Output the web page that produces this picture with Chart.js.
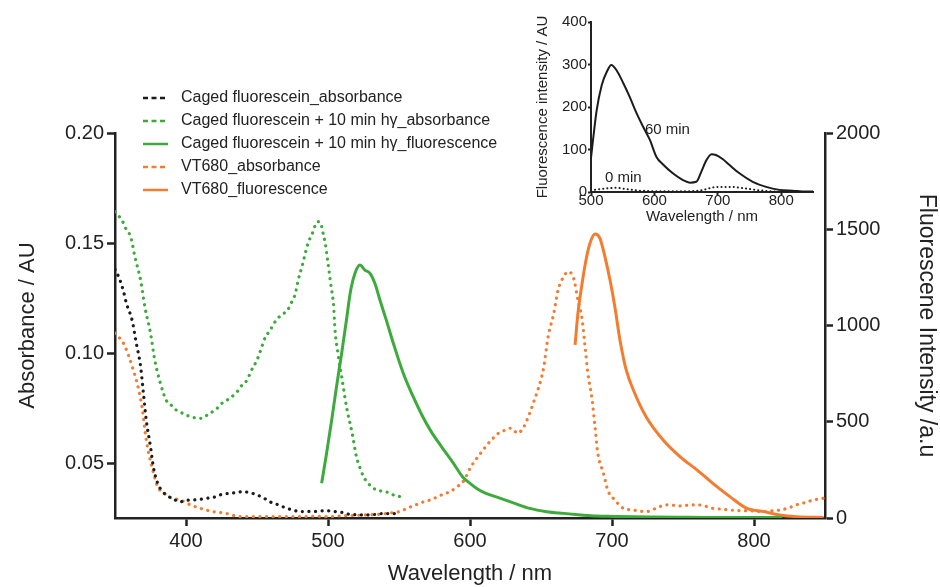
<!DOCTYPE html>
<html>
<head>
<meta charset="utf-8">
<script src="https://cdn.jsdelivr.net/npm/chart.js@4.4.1/dist/chart.umd.min.js"></script>
<style>
  html, body { margin: 0; padding: 0; background: #fff; }
  #wrap { position: relative; width: 940px; height: 587px; }
  #main { position: absolute; left: 0; top: 0; }
  #inset { position: absolute; left: 520px; top: 0; }
</style>
</head>
<body>
<div id="wrap">
  <canvas id="main" width="940" height="587"></canvas>
  <canvas id="inset" width="320" height="240"></canvas>
</div>
<script>
// --- main chart data ---
const xTicks = [400, 500, 600, 700, 800];
const absTicks = [0.05, 0.10, 0.15, 0.20];
const flTicks = [0, 500, 1000, 1500, 2000];

// Caged fluorescein_absorbance (left axis)
const cagedAbsNm = [350, 353, 356, 358, 362, 365, 368, 370, 372, 375, 377, 380, 383, 386, 390, 396, 400, 405, 410, 415, 420, 424, 428, 431, 435, 440, 445, 450, 455, 459, 465, 471, 476, 480, 486, 492, 498, 504, 510, 515, 521, 527, 533, 539, 545, 550];
const cagedAbsVal = [0.138, 0.134, 0.128, 0.1226, 0.115, 0.1044, 0.094, 0.0817, 0.0695, 0.0574, 0.0483, 0.0408, 0.0375, 0.0355, 0.034, 0.0324, 0.033, 0.0332, 0.0335, 0.034, 0.0345, 0.0355, 0.036, 0.0362, 0.0365, 0.037, 0.0365, 0.0355, 0.034, 0.0324, 0.031, 0.0294, 0.0285, 0.0279, 0.028, 0.028, 0.0283, 0.028, 0.0275, 0.0267, 0.0265, 0.0264, 0.0266, 0.027, 0.027, 0.027];

// Caged fluorescein + 10 min hy_absorbance (left axis)
const litAbsNm = [350, 353, 356, 358, 361, 364, 368, 371, 375, 378, 382, 386, 390, 393, 397, 400, 404, 408, 411, 415, 418, 422, 425, 429, 432, 436, 439, 443, 446, 450, 453, 456, 459, 462, 465, 469, 472, 474, 477, 479, 482, 484, 486, 489, 491, 493, 495, 496, 498, 500, 502, 504, 505, 507, 510, 513, 517, 520, 523, 525, 528, 532, 536, 539, 543, 546, 549, 551];
const litAbsVal = [0.1642, 0.162, 0.159, 0.156, 0.1529, 0.1438, 0.1332, 0.121, 0.109, 0.0968, 0.0862, 0.0786, 0.076, 0.0741, 0.0728, 0.0718, 0.071, 0.0703, 0.0703, 0.0718, 0.073, 0.0749, 0.077, 0.0786, 0.080, 0.0824, 0.085, 0.0877, 0.092, 0.0968, 0.102, 0.1074, 0.110, 0.1135, 0.116, 0.118, 0.120, 0.1226, 0.127, 0.1332, 0.140, 0.1453, 0.150, 0.1544, 0.158, 0.1597, 0.159, 0.1559, 0.150, 0.1408, 0.131, 0.121, 0.110, 0.0999, 0.0877, 0.0756, 0.0635, 0.0529, 0.047, 0.0438, 0.041, 0.0385, 0.0375, 0.037, 0.0365, 0.0355, 0.035, 0.0347];

// Caged fluorescein + 10 min hy_fluorescence (right axis)
const litFlNm = [495.5, 499, 502.6, 506, 509.6, 513, 516, 519, 522.5, 526, 529.6, 533, 536.6, 541, 546, 553, 560, 567, 573, 580, 588, 595, 600, 605, 610, 619, 630, 642, 654, 666, 678, 689, 701, 715, 730, 748, 765, 780, 795, 810, 820];
const litFlVal = [180, 336, 509, 682, 855, 1029, 1184, 1271, 1314, 1288, 1271, 1219, 1132, 1029, 908, 752, 630, 522, 445, 370, 288, 212, 180, 152, 132, 108, 80, 50, 33, 24, 16, 10, 8, 6, 5, 4, 3, 3, 2, 2, 2];

// VT680_absorbance (left axis)
const vtAbsNm = [350, 353, 356, 360, 363, 365, 369, 372, 376, 380, 383, 386, 390, 396, 403, 410, 419, 428, 438, 450, 460, 470, 480, 490, 500, 510, 520, 527, 534, 541, 546, 551, 556, 562, 568, 572, 580, 586, 591, 596, 600, 604, 607, 611, 614, 620, 625, 628, 631, 633, 635, 638, 642, 645, 647, 650, 652, 655, 659, 662, 666, 669, 673, 676, 679, 681, 683, 686, 688, 690, 694, 697, 702, 708, 715, 724, 731, 738, 743, 748, 754, 760, 765, 771, 777, 783, 789, 795, 801, 807, 812, 818, 824, 830, 836, 842, 849];
const vtAbsVal = [0.109, 0.107, 0.1044, 0.098, 0.092, 0.0877, 0.0756, 0.0605, 0.0483, 0.0392, 0.037, 0.0355, 0.034, 0.0332, 0.031, 0.0294, 0.0279, 0.0271, 0.0256, 0.0256, 0.0256, 0.0256, 0.0256, 0.0258, 0.0256, 0.026, 0.0262, 0.0264, 0.0266, 0.027, 0.0275, 0.028, 0.0295, 0.031, 0.0325, 0.0332, 0.0355, 0.037, 0.0392, 0.0423, 0.0476, 0.0514, 0.054, 0.0574, 0.0597, 0.0635, 0.065, 0.0658, 0.065, 0.0635, 0.064, 0.0665, 0.0726, 0.078, 0.0817, 0.088, 0.0938, 0.1074, 0.118, 0.1286, 0.1347, 0.137, 0.1339, 0.1241, 0.115, 0.1029, 0.0908, 0.0786, 0.0665, 0.0544, 0.0453, 0.0377, 0.0332, 0.0294, 0.0286, 0.0279, 0.0294, 0.031, 0.0308, 0.0305, 0.0308, 0.031, 0.0305, 0.0294, 0.029, 0.0286, 0.0284, 0.0283, 0.0281, 0.0279, 0.0282, 0.0286, 0.0295, 0.031, 0.032, 0.0332, 0.034];

// VT680_fluorescence (right axis)
const vtFlNm = [674, 676, 678.6, 681.7, 684.5, 688, 691.5, 695, 698.6, 702, 705.6, 710, 716, 724, 736, 748, 760, 771, 783, 795, 807, 818, 830, 849];
const vtFlVal = [899, 1063, 1202, 1340, 1427, 1475, 1453, 1358, 1236, 1098, 925, 769, 648, 526, 405, 318, 249, 180, 111, 50, 33, 16, 7, 3];

// --- inset data ---
const insetXTicks = [500, 600, 700, 800];
const insetYTicks = [0, 100, 200, 300, 400];
const min60Nm = [500, 503, 509, 517, 525, 532, 540, 551, 561, 572, 582, 593, 603, 614, 629, 645, 656, 666, 674, 682, 690, 697, 708, 718, 734, 755, 776, 797, 818, 839, 850];
const min60Val = [80, 120, 193, 252, 283, 299, 287, 256, 224, 185, 154, 122, 83, 64, 44, 28, 22, 24, 48, 75, 89, 87, 77, 64, 44, 24, 12, 5, 3, 1, 1];
const min0Nm = [500, 510, 520, 530, 540, 550, 560, 570, 580, 600, 620, 650, 670, 680, 690, 700, 710, 720, 730, 740, 750, 760, 780, 800, 820, 850];
const min0Val = [4, 6, 8, 9, 10, 8, 6, 4, 3, 2, 2, 2, 3, 6, 10, 12, 12, 12, 11, 9, 7, 5, 2, 1, 0, 0];

const FONT = "'Liberation Sans', Arial, sans-serif";
const INK = '#222';
const BLACK = '#1c1c1c';
const GREEN = '#3cab3c';
const ORANGE = '#f47c30';

function pts(xs, ys) { return xs.map((x, i) => ({ x: x, y: ys[i] })); }
function fixTicks(list) { return axis => { axis.ticks = list.map(v => ({ value: v })); }; }

function axisStyle(size, tickLen, width, pad, fmt) {
  return {
    grid: { display: true, drawOnChartArea: false, drawTicks: true, tickLength: tickLen, tickWidth: width, tickColor: INK },
    border: { display: true, color: INK, width: width },
    ticks: { color: INK, font: { family: FONT, size: size }, autoSkip: false, maxRotation: 0, padding: pad, callback: fmt }
  };
}
const plain = v => String(v);

// legend drawn as a column in the upper left, from the datasets themselves
const sideLegend = {
  id: 'sideLegend',
  afterDraw(chart, args, opts) {
    const ctx = chart.ctx;
    ctx.save();
    chart.data.datasets.forEach((ds, i) => {
      const y = opts.top + i * opts.rowGap;
      ctx.beginPath();
      ctx.strokeStyle = ds.borderColor;
      ctx.lineWidth = 2.5;
      ctx.setLineDash(ds.borderDash ? [5, 3.5] : []);
      ctx.moveTo(opts.left, y);
      ctx.lineTo(opts.left + 25, y);
      ctx.stroke();
      ctx.setLineDash([]);
      ctx.fillStyle = INK;
      ctx.font = opts.size + 'px ' + FONT;
      ctx.textBaseline = 'middle';
      ctx.fillText(ds.label, opts.left + 38, y);
    });
    ctx.restore();
  }
};

// text labels next to inset curves, placed in data units
const curveLabels = {
  id: 'curveLabels',
  afterDatasetsDraw(chart) {
    const ctx = chart.ctx;
    ctx.save();
    ctx.fillStyle = INK;
    ctx.font = '15px ' + FONT;
    ctx.textBaseline = 'middle';
    chart.data.datasets.forEach(ds => {
      if (!ds.tag) return;
      ctx.fillText(ds.label, chart.scales.x.getPixelForValue(ds.tag.x), chart.scales.y.getPixelForValue(ds.tag.y));
    });
    ctx.restore();
  }
};

const dotted = [0.1, 6.5];

new Chart(document.getElementById('main'), {
  type: 'line',
  data: {
    datasets: [
      { label: 'Caged fluorescein_absorbance', data: pts(cagedAbsNm, cagedAbsVal), yAxisID: 'y', borderColor: BLACK, borderDash: dotted, borderCapStyle: 'round', borderWidth: 3.2 },
      { label: 'Caged fluorescein + 10 min h\u03b3_absorbance', data: pts(litAbsNm, litAbsVal), yAxisID: 'y', borderColor: GREEN, borderDash: dotted, borderCapStyle: 'round', borderWidth: 3.2 },
      { label: 'Caged fluorescein + 10 min h\u03b3_fluorescence', data: pts(litFlNm, litFlVal), yAxisID: 'y1', borderColor: GREEN, borderWidth: 3 },
      { label: 'VT680_absorbance', data: pts(vtAbsNm, vtAbsVal), yAxisID: 'y', borderColor: ORANGE, borderDash: dotted, borderCapStyle: 'round', borderWidth: 3.2 },
      { label: 'VT680_fluorescence', data: pts(vtFlNm, vtFlVal), yAxisID: 'y1', borderColor: ORANGE, borderWidth: 3 }
    ]
  },
  options: {
    responsive: false,
    animation: false,
    layout: { padding: { top: 133, left: 0, right: 0, bottom: 0 } },
    elements: { point: { radius: 0 }, line: { cubicInterpolationMode: 'monotone' } },
    plugins: {
      legend: { display: false },
      tooltip: { enabled: false },
      sideLegend: { left: 143, top: 98, rowGap: 23, size: 16 }
    },
    scales: {
      x: Object.assign(axisStyle(20, 8, 2.5, 3, plain), {
        type: 'linear', min: 350, max: 850,
        afterBuildTicks: fixTicks(xTicks),
        afterFit: s => { s.height = 69; },
        title: { display: true, text: 'Wavelength / nm', color: INK, font: { family: FONT, size: 22 }, padding: { top: 0, bottom: 0 } }
      }),
      y: Object.assign(axisStyle(20, 8, 2.5, 3, v => v.toFixed(2)), {
        position: 'left', min: 0.025, max: 0.2,
        afterBuildTicks: fixTicks(absTicks),
        afterFit: s => { s.width = 115; },
        title: { display: true, text: 'Absorbance / AU', color: INK, font: { family: FONT, size: 22 }, padding: { top: 15, bottom: 0 } }
      }),
      y1: Object.assign(axisStyle(20, 8, 2.5, 3, plain), {
        position: 'right', min: 0, max: 2000,
        afterBuildTicks: fixTicks(flTicks),
        afterFit: s => { s.width = 115; },
        title: { display: true, text: 'Fluorescene Intensity /a.u', color: INK, font: { family: FONT, size: 23 }, padding: { top: 0, bottom: 0 } }
      })
    }
  },
  plugins: [sideLegend]
});

new Chart(document.getElementById('inset'), {
  type: 'line',
  data: {
    datasets: [
      { label: '60 min', data: pts(min60Nm, min60Val), borderColor: BLACK, borderWidth: 2, tag: { x: 585, y: 146 } },
      { label: '0 min', data: pts(min0Nm, min0Val), borderColor: BLACK, borderWidth: 2, borderDash: [0.1, 4], borderCapStyle: 'round', tag: { x: 522, y: 33 } }
    ]
  },
  options: {
    responsive: false,
    animation: false,
    layout: { padding: { top: 22, right: 27, left: 0, bottom: 0 } },
    elements: { point: { radius: 0 }, line: { cubicInterpolationMode: 'monotone' } },
    plugins: { legend: { display: false }, tooltip: { enabled: false } },
    scales: {
      x: Object.assign(axisStyle(15, 3, 2, -3, plain), {
        type: 'linear', min: 500, max: 850,
        afterBuildTicks: fixTicks(insetXTicks),
        afterFit: s => { s.height = 48; },
        title: { display: true, text: 'Wavelength / nm', color: INK, font: { family: FONT, size: 15 }, padding: { top: 0, bottom: 14 } }
      }),
      y: Object.assign(axisStyle(15, 3, 2, 1, plain), {
        min: 0, max: 400,
        afterBuildTicks: fixTicks(insetYTicks),
        afterFit: s => { s.width = 71; },
        title: { display: true, text: 'Fluorescence intensity / AU', color: INK, font: { family: FONT, size: 15 }, padding: { top: 14, bottom: 0 } }
      })
    }
  },
  plugins: [curveLabels]
});
</script>
</body>
</html>
